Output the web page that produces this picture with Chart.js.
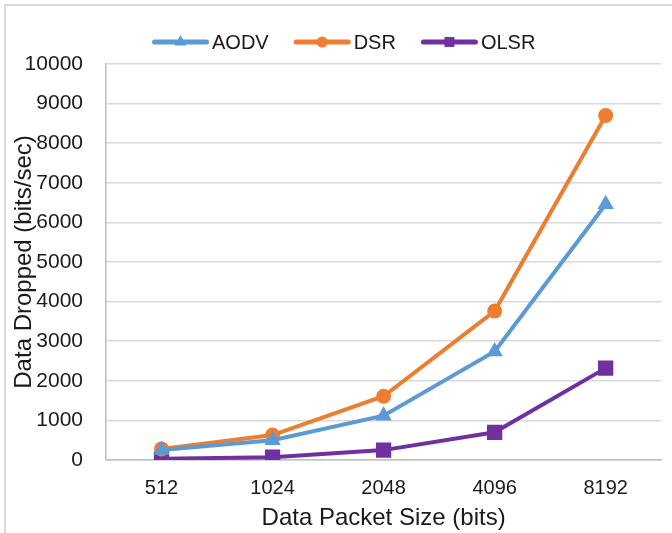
<!DOCTYPE html>
<html>
<head>
<meta charset="utf-8">
<script src="https://cdn.jsdelivr.net/npm/chart.js@4/dist/chart.umd.min.js"></script>
<style>
  body { margin: 0; background: #fff; }
  #wrap {
    position: absolute; left: 4px; top: 4px;
    width: 668px; height: 529px; box-sizing: border-box;
    border-left: 2px solid #d9d9d9; border-top: 2px solid #d9d9d9;
  }
  canvas { display: block; }
</style>
</head>
<body>
<div id="wrap"><canvas id="chart" width="666" height="527"></canvas></div>
<script>
// DATA
var packetSizes = ["512", "1024", "2048", "4096", "8192"];
var aodv = [250, 500, 1120, 2740, 6460];
var dsr = [280, 630, 1610, 3760, 8700];
var olsr = [30, 70, 250, 700, 2320];
var yTicks = [0, 1000, 2000, 3000, 4000, 5000, 6000, 7000, 8000, 9000, 10000];

var FONT = "'Liberation Sans', Arial, sans-serif";
var TEXT = "#1a1a1a";

//LEGEND: line with marker in the middle, then the label
var lineLegend = {
    id: 'lineLegend',
    afterDraw: function(chart) {
        var c = chart.ctx;
        var x = 146, y = 36, lineLen = 57;
        c.save();
        c.font = "20px " + FONT;
        c.textBaseline = "middle";
        chart.data.datasets.forEach(function(ds) {
            c.strokeStyle = ds.borderColor;
            c.fillStyle = ds.borderColor;
            c.lineWidth = 5;
            c.lineCap = "round";
            c.beginPath();
            c.moveTo(x + 2.5, y);
            c.lineTo(x + lineLen - 2.5, y);
            c.stroke();
            Chart.helpers.drawPoint(c, {
                pointStyle: ds.pointStyle,
                radius: ds.legendRadius,
                rotation: 0,
                borderWidth: 0
            }, x + lineLen / 2, y);
            c.fillStyle = TEXT;
            c.fillText(ds.label, x + lineLen + 3, y + 1);
            x += lineLen + 3 + c.measureText(ds.label).width + 25;
        });
        c.restore();
    }
};

new Chart(document.getElementById("chart").getContext('2d'), {
    type: 'line',
    data: {
        labels: packetSizes,
        datasets: [{
            label: "AODV",
            data: aodv,
            borderColor: '#5b9bd5',
            backgroundColor: '#5b9bd5',
            pointStyle: 'triangle',
            pointRadius: 9.5,
            legendRadius: 7
        }, {
            label: "DSR",
            data: dsr,
            borderColor: '#ed7d31',
            backgroundColor: '#ed7d31',
            pointStyle: 'circle',
            pointRadius: 7.5,
            legendRadius: 5.5
        }, {
            label: "OLSR",
            data: olsr,
            borderColor: '#7030a0',
            backgroundColor: '#7030a0',
            pointStyle: 'rect',
            pointRadius: 10.8,
            legendRadius: 7
        }]
    },
    options: {
        animation: false,
        responsive: false,
        layout: { padding: { left: 2, right: 10, top: 58, bottom: 0 } },
        elements: {
            line: { borderWidth: 4, tension: 0 },
            point: { borderWidth: 0, hoverRadius: 9 }
        },
        plugins: {
            legend: { display: false },
            tooltip: { enabled: false }
        },
        scales: {
            x: {
                offset: true,
                grid: { display: false, drawTicks: false },
                border: { color: '#bfbfbf', width: 1.5 },
                ticks: { color: TEXT, padding: 16, font: { family: FONT, size: 20 } },
                title: {
                    display: true,
                    text: "Data Packet Size (bits)",
                    color: TEXT,
                    padding: { top: 0, bottom: 0 },
                    font: { family: FONT, size: 24 }
                },
                afterFit: function(scale) { scale.height = 73; }
            },
            y: {
                min: 0,
                max: 10000,
                afterBuildTicks: function(scale) {
                    scale.ticks = yTicks.map(function(v) { return { value: v }; });
                },
                grid: { color: '#d9d9d9', lineWidth: 1.5, drawTicks: false },
                border: { color: '#bfbfbf', width: 1.5 },
                ticks: {
                    color: TEXT,
                    padding: 23,
                    font: { family: FONT, size: 21 },
                    callback: function(v) { return String(v); }
                },
                title: {
                    display: true,
                    text: "Data Dropped (bits/sec)",
                    color: TEXT,
                    padding: { top: 2, bottom: 0 },
                    font: { family: FONT, size: 24 }
                },
                afterFit: function(scale) { scale.width = 98; }
            }
        }
    },
    plugins: [lineLegend]
});
</script>
</body>
</html>
